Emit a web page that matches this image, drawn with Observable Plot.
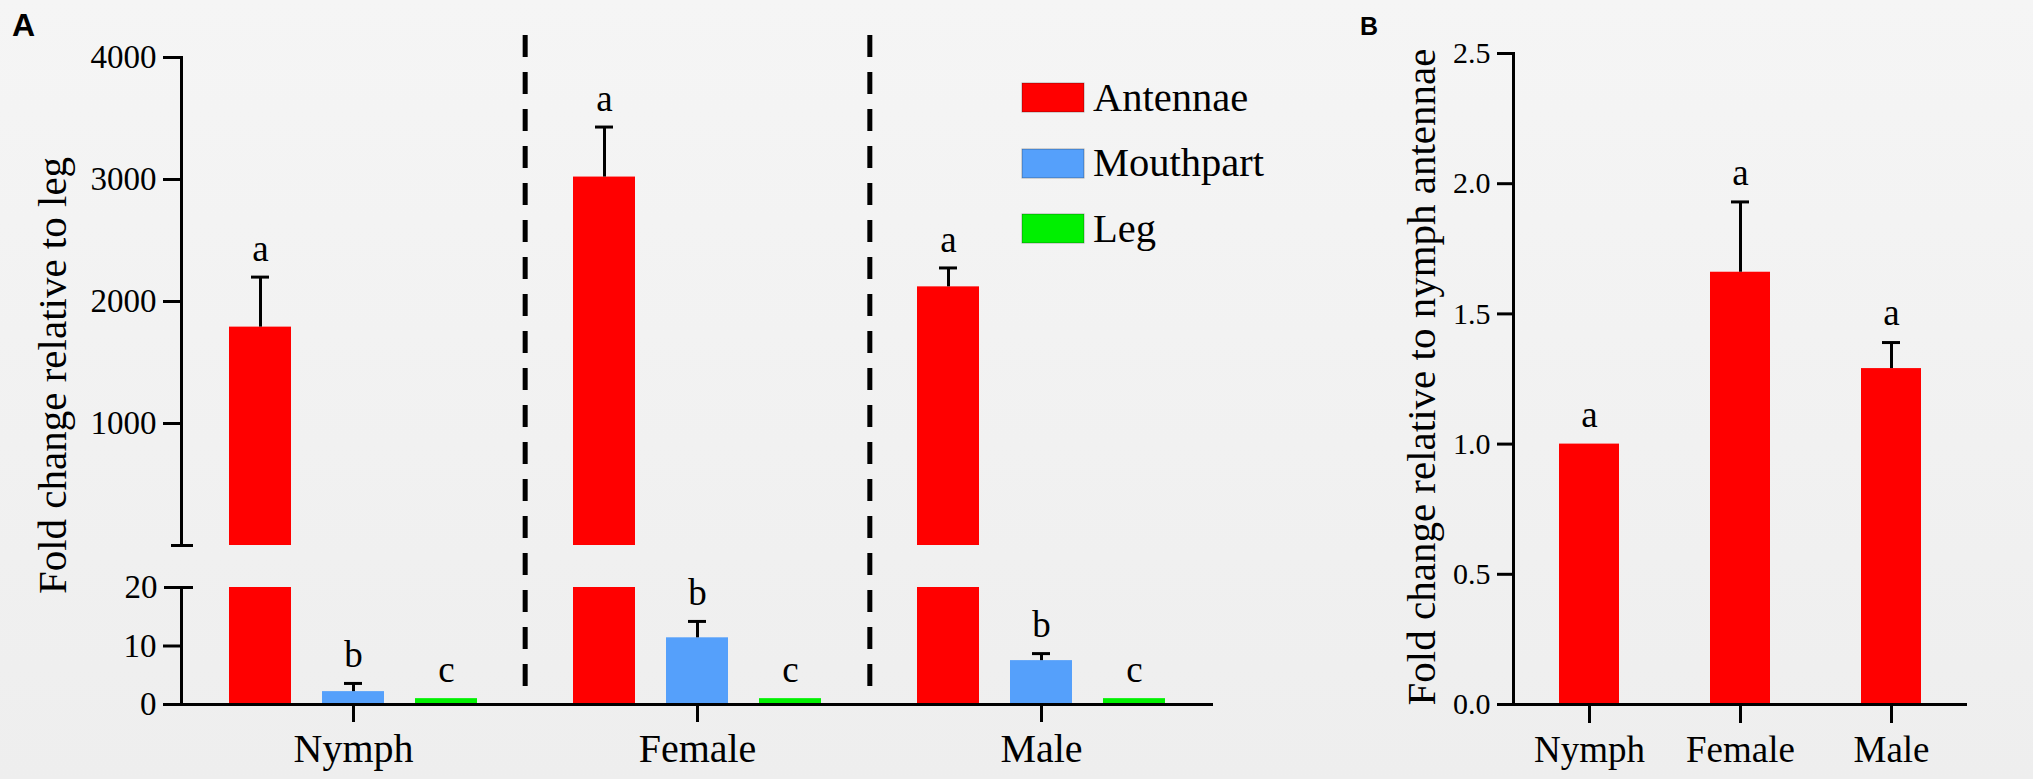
<!DOCTYPE html>
<html>
<head>
<meta charset="utf-8">
<script src="https://cdn.jsdelivr.net/npm/d3@7"></script>
<script src="https://cdn.jsdelivr.net/npm/@observablehq/plot@0.6"></script>
<style>
  html, body { margin: 0; padding: 0; }
  body { width: 2033px; height: 779px; overflow: hidden; background: linear-gradient(#f5f5f5, #eeeeee); }
  #wrap { position: relative; width: 2033px; height: 779px; }
  .layer { position: absolute; }
  .panel-label { position: absolute; font-family: "Liberation Sans", Arial, sans-serif; font-weight: bold; line-height: 1; color: #000; }
  .lg-swatches { font-family: "Liberation Serif", "Times New Roman", serif !important; font-size: 40.5px !important; margin: 0 !important; color: #000; }
  .lg-swatch { padding-bottom: 0 !important; margin-bottom: 19.5px !important; line-height: 46px !important; height: 46px; display: flex !important; align-items: center !important; overflow: visible !important; }
  .lg-swatch-label { overflow: visible !important; }
  .lg-swatch svg { margin-right: 9px !important; overflow: visible; }
  .lg-swatch svg rect { stroke: rgba(0,0,0,0.3); stroke-width: 1px; }
</style>
</head>
<body>
<div id="wrap"></div>
<script>
// ---------- data ----------
const stages = ["Nymph", "Female", "Male"];
const tissues = ["Antennae", "Mouthpart", "Leg"];
const tissueColors = ["#ff0000", "#55a0fb", "#00f000"];

// Panel A: fold change relative to leg
const antennaeMean = [1790, 3020, 2120];
const antennaeSE = [410, 410, 155];
const antennaeLetters = ["a", "a", "a"];
const mouthpartMean = [2.2, 11.4, 7.5];
const mouthpartSE = [1.4, 2.8, 1.2];
const mouthpartLetters = ["b", "b", "b"];
const legMean = [1, 1, 1];
const legSE = [0, 0, 0];
const legLetters = ["c", "c", "c"];
const yTicksAUpper = [1000, 2000, 3000, 4000];
const yTicksALower = [0, 10];
const yTickABreak = [20];
const yLabelA = "Fold change relative to leg";

// Panel B: fold change relative to nymph antennae
const ratioMean = [1.0, 1.66, 1.29];
const ratioSE = [0, 0.27, 0.10];
const ratioLetters = ["a", "a", "a"];
const yTicksB = [0, 0.5, 1.0, 1.5, 2.0, 2.5];
const yLabelB = "Fold change relative to nymph antennae";

// ---------- tables ----------
const rowsA = stages.flatMap((s, i) => [
  {stage: s, tissue: tissues[0], value: antennaeMean[i], se: antennaeSE[i], letter: antennaeLetters[i]},
  {stage: s, tissue: tissues[1], value: mouthpartMean[i], se: mouthpartSE[i], letter: mouthpartLetters[i]},
  {stage: s, tissue: tissues[2], value: legMean[i], se: legSE[i], letter: legLetters[i]}
]);
const antRows = rowsA.filter(d => d.tissue === tissues[0]);
const smallRows = rowsA.filter(d => d.tissue !== tissues[0]);
const smallErr = smallRows.filter(d => d.se > 0);
const rowsB = stages.map((s, i) => ({stage: s, value: ratioMean[i], se: ratioSE[i], letter: ratioLetters[i]}));
const errB = rowsB.filter(d => d.se > 0);

// ---------- shared options ----------
const serif = '"Liberation Serif", "Times New Roman", serif';
const plotStyle = {background: "transparent", overflow: "visible", maxWidth: "none", fontFamily: serif, color: "#000"};
const fxOpt = {domain: stages, paddingInner: 0, paddingOuter: 0};
const xOpt = {domain: tissues, paddingInner: 0.33, paddingOuter: 0.5, axis: null};
const colorOpt = {domain: tissues, range: tissueColors};
const errTop = d => d.value + d.se;

const wrap = document.getElementById("wrap");
function place(el, left, topPx) {
  el.classList.add("layer");
  el.style.left = left + "px";
  el.style.top = topPx + "px";
  wrap.appendChild(el);
}

// ---------- Panel A, upper segment ----------
const aTop = Plot.plot({
  style: plotStyle, width: 1240, height: 560,
  marginLeft: 180, marginRight: 26, marginTop: 57, marginBottom: 15,
  fx: {...fxOpt, axis: null}, x: xOpt, y: {domain: [0, 4000]}, color: colorOpt,
  marks: [
    Plot.barY(antRows, {fx: "stage", x: "tissue", y: "value", fill: "tissue"}),
    Plot.ruleX(antRows, {fx: "stage", x: "tissue", y1: "value", y2: errTop, stroke: "#000", strokeWidth: 3}),
    Plot.tickY(antRows, {fx: "stage", x: "tissue", y: errTop, stroke: "#000", strokeWidth: 3, inset: 22}),
    Plot.text(antRows, {fx: "stage", x: "tissue", y: errTop, text: "letter", dy: -28, fontSize: 37}),
    Plot.axisY({ticks: yTicksAUpper, tickSize: 18, tickPadding: 7, fontSize: 33, strokeWidth: 3, tickFormat: "d", label: null}),
    Plot.axisY({ticks: [0], tickSize: 22, dx: 12, strokeWidth: 3, tickFormat: () => "", label: null}),
    Plot.frame({anchor: "left", facetAnchor: "left", strokeWidth: 3})
  ]
});
place(aTop, 0, 0);

// ---------- Panel A, lower segment ----------
const aBottom = Plot.plot({
  style: plotStyle, width: 1240, height: 219,
  marginLeft: 180, marginRight: 26, marginTop: 27, marginBottom: 75,
  fx: fxOpt, x: xOpt, y: {domain: [0, 20]}, color: colorOpt,
  marks: [
    Plot.barY(rowsA, {fx: "stage", x: "tissue", y: "value", fill: "tissue", clip: true}),
    Plot.ruleX(smallErr, {fx: "stage", x: "tissue", y1: "value", y2: errTop, stroke: "#000", strokeWidth: 3}),
    Plot.tickY(smallErr, {fx: "stage", x: "tissue", y: errTop, stroke: "#000", strokeWidth: 3, inset: 22}),
    Plot.text(smallRows, {fx: "stage", x: "tissue", y: errTop, text: "letter", dy: -28, fontSize: 37}),
    Plot.ruleY([0], {strokeWidth: 3}),
    Plot.axisY({ticks: yTicksALower, tickSize: 18, tickPadding: 7, fontSize: 33, strokeWidth: 3, tickFormat: "d", label: null}),
    Plot.axisY({ticks: yTickABreak, tickSize: 29, dx: 12, tickPadding: 7, fontSize: 33, strokeWidth: 3, tickFormat: "d", label: null}),
    Plot.axisFx({anchor: "bottom", tickSize: 18, tickPadding: 11, fontSize: 40, strokeWidth: 3, label: null}),
    Plot.frame({anchor: "left", facetAnchor: "left", strokeWidth: 3})
  ]
});
place(aBottom, 0, 560);

// ---------- Panel A, stage separators and y label ----------
const aOverlay = Plot.plot({
  style: plotStyle, width: 1240, height: 779,
  marginLeft: 180, marginRight: 26, marginTop: 35, marginBottom: 79,
  x: {domain: [0, stages.length], axis: null},
  marks: [
    Plot.ruleX(d3.range(1, stages.length), {stroke: "#000", strokeWidth: 5, strokeDasharray: "22,15"}),
    Plot.text([yLabelA], {text: d => d, frameAnchor: "left", textAnchor: "middle", rotate: -90, lineAnchor: "top", dx: -144, dy: 7.5, fontSize: 41})
  ]
});
place(aOverlay, 0, 0);

// ---------- Panel B ----------
const pB = Plot.plot({
  style: plotStyle, width: 593, height: 779,
  marginLeft: 73, marginRight: 66, marginTop: 53, marginBottom: 75,
  x: {domain: stages, paddingInner: 0.6, paddingOuter: 0.3},
  y: {domain: [0, 2.5]},
  marks: [
    Plot.barY(rowsB, {x: "stage", y: "value", fill: tissueColors[0]}),
    Plot.ruleX(errB, {x: "stage", y1: "value", y2: errTop, stroke: "#000", strokeWidth: 3}),
    Plot.tickY(errB, {x: "stage", y: errTop, stroke: "#000", strokeWidth: 3, inset: 21}),
    Plot.text(rowsB, {x: "stage", y: errTop, text: "letter", dy: -29, fontSize: 37}),
    Plot.ruleY([0], {strokeWidth: 3}),
    Plot.frame({anchor: "left", strokeWidth: 3}),
    Plot.axisY({ticks: yTicksB, tickSize: 16, tickPadding: 7, fontSize: 30, strokeWidth: 3, tickFormat: ".1f", label: null}),
    Plot.axisX({tickSize: 19, tickPadding: 12, fontSize: 37, strokeWidth: 3, label: null}),
    Plot.text([yLabelB], {text: d => d, frameAnchor: "left", textAnchor: "middle", rotate: -90, lineAnchor: "top", dx: -108, dy: -2, fontSize: 41})
  ]
});
place(pB, 1440, 0);

// ---------- Legend ----------
const legend = Plot.legend({
  color: {domain: tissues, range: tissueColors},
  columns: 1, swatchWidth: 62, swatchHeight: 29, className: "lg"
});
const legWrap = document.createElement("div");
legWrap.style.width = "320px";
legWrap.appendChild(legend);
place(legWrap, 1022, 74.5);

// ---------- Panel letters ----------
const la = document.createElement("div");
la.className = "panel-label"; la.textContent = "A"; la.style.fontSize = "32px";
place(la, 12, 9);
const lb = document.createElement("div");
lb.className = "panel-label"; lb.textContent = "B"; lb.style.fontSize = "25px";
place(lb, 1360, 14);
</script>
</body>
</html>
